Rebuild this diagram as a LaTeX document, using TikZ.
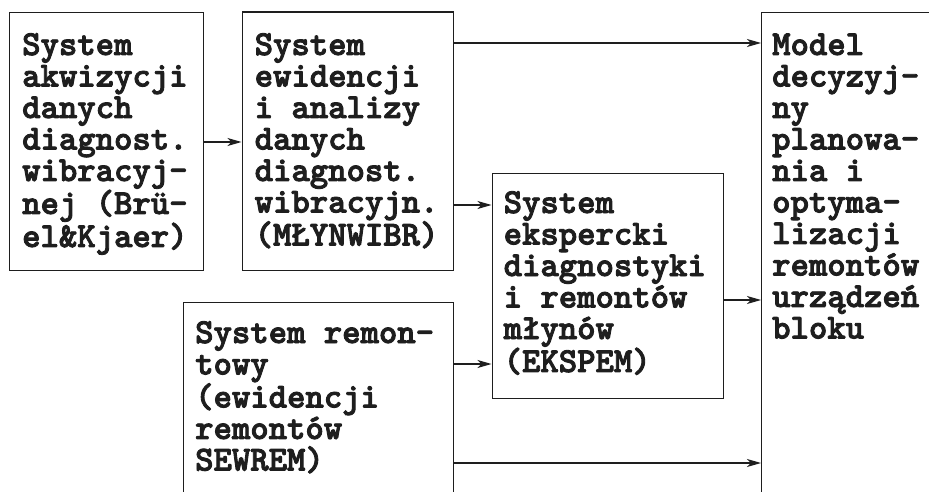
\documentclass[tikz,border=0pt]{standalone}
\usepackage{fontspec}
\newfontfamily\boxfont{lmmonolt10-bold.otf}[FakeBold=2.5]
\usetikzlibrary{arrows.meta}
\setlength{\parindent}{0pt}
\definecolor{inkgrey}{RGB}{30,30,30}
\tikzset{
  box/.style={rectangle, draw=inkgrey, line width=1.2pt, inner sep=0pt, anchor=north west},
  txt/.style={font=\boxfont\fontsize{35}{31.5}\selectfont, align=flush left, text width=320pt, inner sep=0pt, anchor=base west, text=inkgrey},
  arr/.style={-{Stealth[length=14pt,width=8pt,inset=4pt]}, line width=1.2pt, draw=inkgrey},
}
\begin{document}
\begin{tikzpicture}[x=1pt,y=-1pt]
  \useasboundingbox (0,0) rectangle (929,492);
  \begin{scope}
    \clip (0,0) rectangle (929,492);
    \node[box,minimum width=194pt,minimum height=258pt] (akw) at (9,12) {};
    \node[box,minimum width=211.5pt,minimum height=258.5pt] (ewi) at (241.5,11.5) {};
    \node[box,minimum width=231.5pt,minimum height=225pt] (eks) at (491.5,173) {};
    \node[box,minimum width=270pt,minimum height=260pt] (rem) at (183,302) {};
    \node[box,minimum width=220pt,minimum height=520pt] (mod) at (761,12) {};
  \end{scope}
  \node[txt] (akwtxt) at ([shift={(13,43)}]akw.north west) {System\\akwizycji\\danych\\diagnost.\\wibracyj-\\nej (Brü-\\el\&Kjaer)};
  \node[txt] (ewitxt) at ([shift={(13,43.5)}]ewi.north west) {System\\ewidencji\\i analizy\\danych\\diagnost.\\wibracyjn.\\(MŁYNWIBR)};
  \node[txt] (ekstxt) at ([shift={(12,40)}]eks.north west) {System\\ekspercki\\diagnostyki\\i remontów\\młynów\\(EKSPEM)};
  \node[txt] (remtxt) at ([shift={(12,41)}]rem.north west) {System remon-\\towy\\(ewidencji\\remontów\\SEWREM)};
  \node[txt] (modtxt) at ([shift={(11,43)}]mod.north west) {Model\\decyzyj-\\ny\\planowa-\\nia i\\optyma-\\lizacji\\remontów\\urządzeń\\bloku};
  \draw[arr] (akw.east |- 0,142) -- (ewi.west |- 0,142);
  \draw[arr] (ewi.east |- 0,43) -- (mod.west |- 0,43);
  \draw[arr] (ewi.east |- 0,205) -- (eks.west |- 0,205);
  \draw[arr] (eks.east |- 0,300) -- (mod.west |- 0,300);
  \draw[arr] (rem.east |- 0,364) -- (eks.west |- 0,364);
  \draw[arr] (rem.east |- 0,463) -- (mod.west |- 0,463);
\end{tikzpicture}
\end{document}
